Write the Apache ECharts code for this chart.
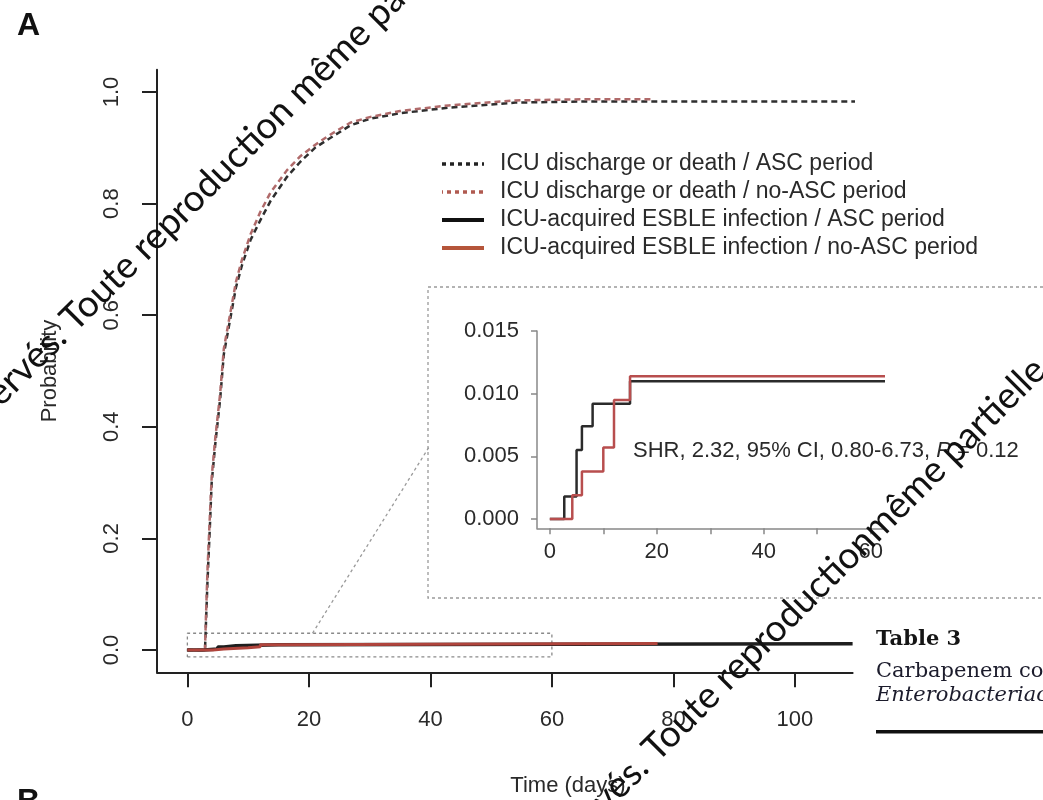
<!DOCTYPE html>
<html lang="en">
<head>
<meta charset="UTF-8">
<title>Cumulative incidence - ASC vs no-ASC</title>
<script src="https://cdn.jsdelivr.net/npm/echarts@6/dist/echarts.min.js"></script>
</head>
<body style="margin:0;background:#fff;">
<div id="chart" style="width:1043px;height:800px;"></div>
<script>
// ICU discharge or death (competing event)
var dischargeDaysASC = [0, 2.9, 3.0, 3.3, 3.7, 4.0, 4.6, 5.4, 6, 7, 8, 9, 10.4, 12, 13.7, 16.4, 18.6, 21, 23, 26.8, 30, 35, 43, 54, 65, 80, 111];
var dischargeProbASC = [0, 0, 0.03, 0.12, 0.22, 0.30, 0.37, 0.45, 0.53, 0.59, 0.65, 0.69, 0.735, 0.77, 0.805, 0.848, 0.875, 0.90, 0.914, 0.94, 0.952, 0.962, 0.972, 0.981, 0.983, 0.983, 0.983];
var dischargeDaysNoASC = [0, 2.9, 3.0, 3.3, 3.7, 4.0, 4.6, 5.4, 6, 7, 8, 9, 10.4, 12, 13.7, 16.4, 18.6, 21, 23, 26.8, 30, 35, 43, 54, 65, 76.7];
var dischargeProbNoASC = [0, 0, 0.04, 0.14, 0.24, 0.31, 0.38, 0.46, 0.54, 0.60, 0.66, 0.70, 0.745, 0.785, 0.82, 0.86, 0.885, 0.905, 0.92, 0.945, 0.955, 0.966, 0.976, 0.985, 0.987, 0.987];

// ICU-acquired ESBLE infection (step curves)
var esbleDaysASC = [0, 2.7, 5, 6, 8, 15, 109.5];
var esbleProbASC = [0, 0.0018, 0.0055, 0.0074, 0.0092, 0.0110, 0.0110];
var esbleDaysNoASC = [0, 4.2, 6, 10, 12, 15, 77.4];
var esbleProbNoASC = [0, 0.0019, 0.0038, 0.0057, 0.0095, 0.0114, 0.0114];

var mainXTicks = [0, 20, 40, 60, 80, 100];
var mainYTicks = [0, 0.2, 0.4, 0.6, 0.8, 1.0];
var insetXTicks = [0, 10, 20, 30, 40, 50, 60];
var insetXLabels = [0, 20, 40, 60];
var insetYTicks = [0, 0.005, 0.010, 0.015];

var names = [
    'ICU discharge or death / ASC period',
    'ICU discharge or death / no-ASC period',
    'ICU-acquired ESBLE infection / ASC period',
    'ICU-acquired ESBLE infection / no-ASC period'
];

// zoom box around the ESBLE curves, and the link to the inset frame
var zoomBoxX = [0, 60, 60, 0, 0];
var zoomBoxY = [-0.0125, -0.0125, 0.03, 0.03, -0.0125];
var linkX = [20.6, 39.8];
var linkY = [0.03, 0.364];

function zip(xs, ys) {
    return xs.map(function (x, i) { return [x, ys[i]]; });
}

var txt = '#2a2a2a';
var font = '"Liberation Sans", Arial, sans-serif';
var wmFont = 'Lato, "Open Sans", sans-serif';

var chart = echarts.init(document.getElementById('chart'));

var option = {
    animation: false,
    backgroundColor: '#fff',
    textStyle: { fontFamily: font },
    grid: [
        { left: 157, top: 69.7, width: 695.6, height: 602.6 },
        { left: 537, top: 331, width: 346.5, height: 197.3 }
    ],
    xAxis: [{
        type: 'value', gridIndex: 0, min: -5, max: 109.5,
        axisLine: { onZero: false, lineStyle: { color: '#222', width: 2 } },
        axisTick: { length: 15, lineStyle: { color: '#222', width: 2 }, customValues: mainXTicks },
        axisLabel: { customValues: mainXTicks, margin: 37, fontSize: 22, color: txt },
        splitLine: { show: false }
    }, {
        type: 'value', gridIndex: 1, min: -2.4, max: 62.4,
        axisLine: { onZero: false, lineStyle: { color: '#888', width: 1.5 } },
        axisTick: { length: 6, lineStyle: { color: '#888', width: 1.5 }, customValues: insetXTicks },
        axisLabel: { customValues: insetXLabels, margin: 13, fontSize: 22, color: txt },
        splitLine: { show: false }
    }],
    yAxis: [{
        type: 'value', gridIndex: 0, min: -0.04, max: 1.04,
        axisLine: { onZero: false, lineStyle: { color: '#222', width: 2 } },
        axisTick: { length: 15, lineStyle: { color: '#222', width: 2 }, customValues: mainYTicks },
        axisLabel: {
            customValues: mainYTicks, rotate: 90, margin: 34, fontSize: 22, color: txt,
            formatter: function (v) { return v.toFixed(1); }
        },
        splitLine: { show: false }
    }, {
        type: 'value', gridIndex: 1, min: -0.00074, max: 0.015,
        axisLine: { onZero: false, lineStyle: { color: '#888', width: 1.5 } },
        axisTick: { length: 6, lineStyle: { color: '#888', width: 1.5 }, customValues: insetYTicks },
        axisLabel: {
            customValues: insetYTicks, margin: 18, fontSize: 22, color: txt,
            formatter: function (v) { return v.toFixed(3); }
        },
        splitLine: { show: false }
    }],
    legend: {
        orient: 'vertical', left: 440, top: 150, padding: 0,
        itemWidth: 42, itemHeight: 14, itemGap: 0,
        itemStyle: { opacity: 0 },
        textStyle: { fontSize: 23, color: txt, lineHeight: 28, padding: [0, 0, 0, 11] },
        data: [
            { name: names[0], itemStyle: { opacity: 0 }, lineStyle: { color: '#222', width: 3.5, type: [4, 4] } },
            { name: names[1], itemStyle: { opacity: 0 }, lineStyle: { color: '#b05a50', width: 3.5, type: [4, 4] } },
            { name: names[2], itemStyle: { opacity: 0 }, lineStyle: { color: '#111', width: 4, type: 'solid' } },
            { name: names[3], itemStyle: { opacity: 0 }, lineStyle: { color: '#b5553a', width: 4, type: 'solid' } }
        ]
    },
    series: [{
        name: 'zoom box', type: 'line', silent: true, symbol: 'none',
        data: zip(zoomBoxX, zoomBoxY),
        lineStyle: { color: '#8a8a8a', width: 1.3, type: [3, 3] }
    }, {
        name: 'link', type: 'line', silent: true, clip: false, symbol: 'none',
        data: zip(linkX, linkY),
        lineStyle: { color: '#9a9a9a', width: 1.3, type: [3, 3] }
    }, {
        name: names[0], type: 'line', symbol: 'none',
        data: zip(dischargeDaysASC, dischargeProbASC),
        itemStyle: { color: '#2e2e2e' },
        lineStyle: { color: '#2e2e2e', width: 2.5, type: [6, 4] }
    }, {
        name: names[1], type: 'line', symbol: 'none',
        data: zip(dischargeDaysNoASC, dischargeProbNoASC),
        itemStyle: { color: '#b06a6a' },
        lineStyle: { color: '#b06a6a', width: 2.5, type: [6, 4], dashOffset: 3 }
    }, {
        name: names[2], type: 'line', symbol: 'none', step: 'end',
        data: zip(esbleDaysASC, esbleProbASC),
        itemStyle: { color: '#1e1e1e' },
        lineStyle: { color: '#1e1e1e', width: 3.5 }
    }, {
        name: names[3], type: 'line', symbol: 'none', step: 'end',
        data: zip(esbleDaysNoASC, esbleProbNoASC),
        itemStyle: { color: '#b0443c' },
        lineStyle: { color: '#b0443c', width: 3 }
    }, {
        name: names[2], type: 'line', symbol: 'none', step: 'end',
        xAxisIndex: 1, yAxisIndex: 1,
        data: zip(esbleDaysASC, esbleProbASC),
        itemStyle: { color: '#2b2b2b' },
        lineStyle: { color: '#2b2b2b', width: 2.5 }
    }, {
        name: names[3], type: 'line', symbol: 'none', step: 'end',
        xAxisIndex: 1, yAxisIndex: 1,
        data: zip(esbleDaysNoASC, esbleProbNoASC),
        itemStyle: { color: '#b84e4e' },
        lineStyle: { color: '#b84e4e', width: 2.5 }
    }],
    graphic: [
        { type: 'text', left: 17, top: 10, style: { text: 'A', fontSize: 32, fontWeight: 'bold', fill: '#111', fontFamily: font } },
        { type: 'text', left: 17, top: 786, style: { text: 'B', fontSize: 32, fontWeight: 'bold', fill: '#111', fontFamily: font } },
        {
            type: 'text', x: 50, y: 371, rotation: Math.PI / 2,
            style: { text: 'Probability', fontSize: 22, fill: txt, fontFamily: font, align: 'center', verticalAlign: 'middle' }
        },
        {
            type: 'text', x: 568, y: 786,
            style: { text: 'Time (days)', fontSize: 22, fill: txt, fontFamily: font, align: 'center', verticalAlign: 'middle' }
        },
        // inset frame
        {
            type: 'rect', shape: { x: 428, y: 287, width: 700, height: 311 },
            style: { fill: null, stroke: '#9a9a9a', lineWidth: 1.3, lineDash: [3, 3] }
        },
        {
            type: 'text', x: 633, y: 451,
            style: {
                text: '{a|SHR, 2.32, 95% CI, 0.80-6.73, }{b|P}{a| = 0.12}',
                verticalAlign: 'middle', align: 'left',
                rich: {
                    a: { fontSize: 22, fill: txt, fontFamily: font },
                    b: { fontSize: 22, fill: txt, fontFamily: font, fontStyle: 'italic' }
                }
            }
        },
        // table column on the right
        { type: 'rect', shape: { x: 858, y: 612, width: 190, height: 190 }, style: { fill: '#fff' }, z: 50 },
        { type: 'text', x: 876, y: 640, z: 51, style: { text: 'Table 3', fontSize: 21, fontWeight: 'bold', fill: '#151515', fontFamily: '"DejaVu Serif", serif', verticalAlign: 'middle' } },
        { type: 'text', x: 876, y: 672, z: 51, style: { text: 'Carbapenem co', fontSize: 21, fill: '#1c1c2c', fontFamily: '"DejaVu Serif", serif', verticalAlign: 'middle' } },
        { type: 'text', x: 876, y: 696, z: 51, style: { text: 'Enterobacteriac', fontSize: 21, fontStyle: 'italic', fill: '#1c1c2c', fontFamily: '"DejaVu Serif", serif', verticalAlign: 'middle' } },
        { type: 'rect', z: 51, shape: { x: 876, y: 730, width: 170, height: 3.5 }, style: { fill: '#111' } },
        // watermark overlay
        {
            type: 'text', x: 80, y: 338, rotation: Math.PI / 4, z: 100,
            style: { text: 'Toute reproduction même partielle', fontSize: 37, fill: '#111', fontFamily: wmFont, align: 'left', verticalAlign: 'bottom' }
        },
        {
            type: 'text', x: 80, y: 338, rotation: Math.PI / 4, z: 100,
            style: { text: 'Tous droits réservés. ', fontSize: 37, fill: '#111', fontFamily: wmFont, align: 'right', verticalAlign: 'bottom' }
        },
        {
            type: 'text', x: 662, y: 768, rotation: Math.PI / 4, z: 100,
            style: { text: 'Toute reproductionmême partielle', fontSize: 37, fill: '#111', fontFamily: wmFont, align: 'left', verticalAlign: 'bottom' }
        },
        {
            type: 'text', x: 662, y: 768, rotation: Math.PI / 4, z: 100,
            style: { text: 'droits réservés. ', fontSize: 37, fill: '#111', fontFamily: wmFont, align: 'right', verticalAlign: 'bottom' }
        }
    ]
};

chart.setOption(option);
</script>
</body>
</html>
